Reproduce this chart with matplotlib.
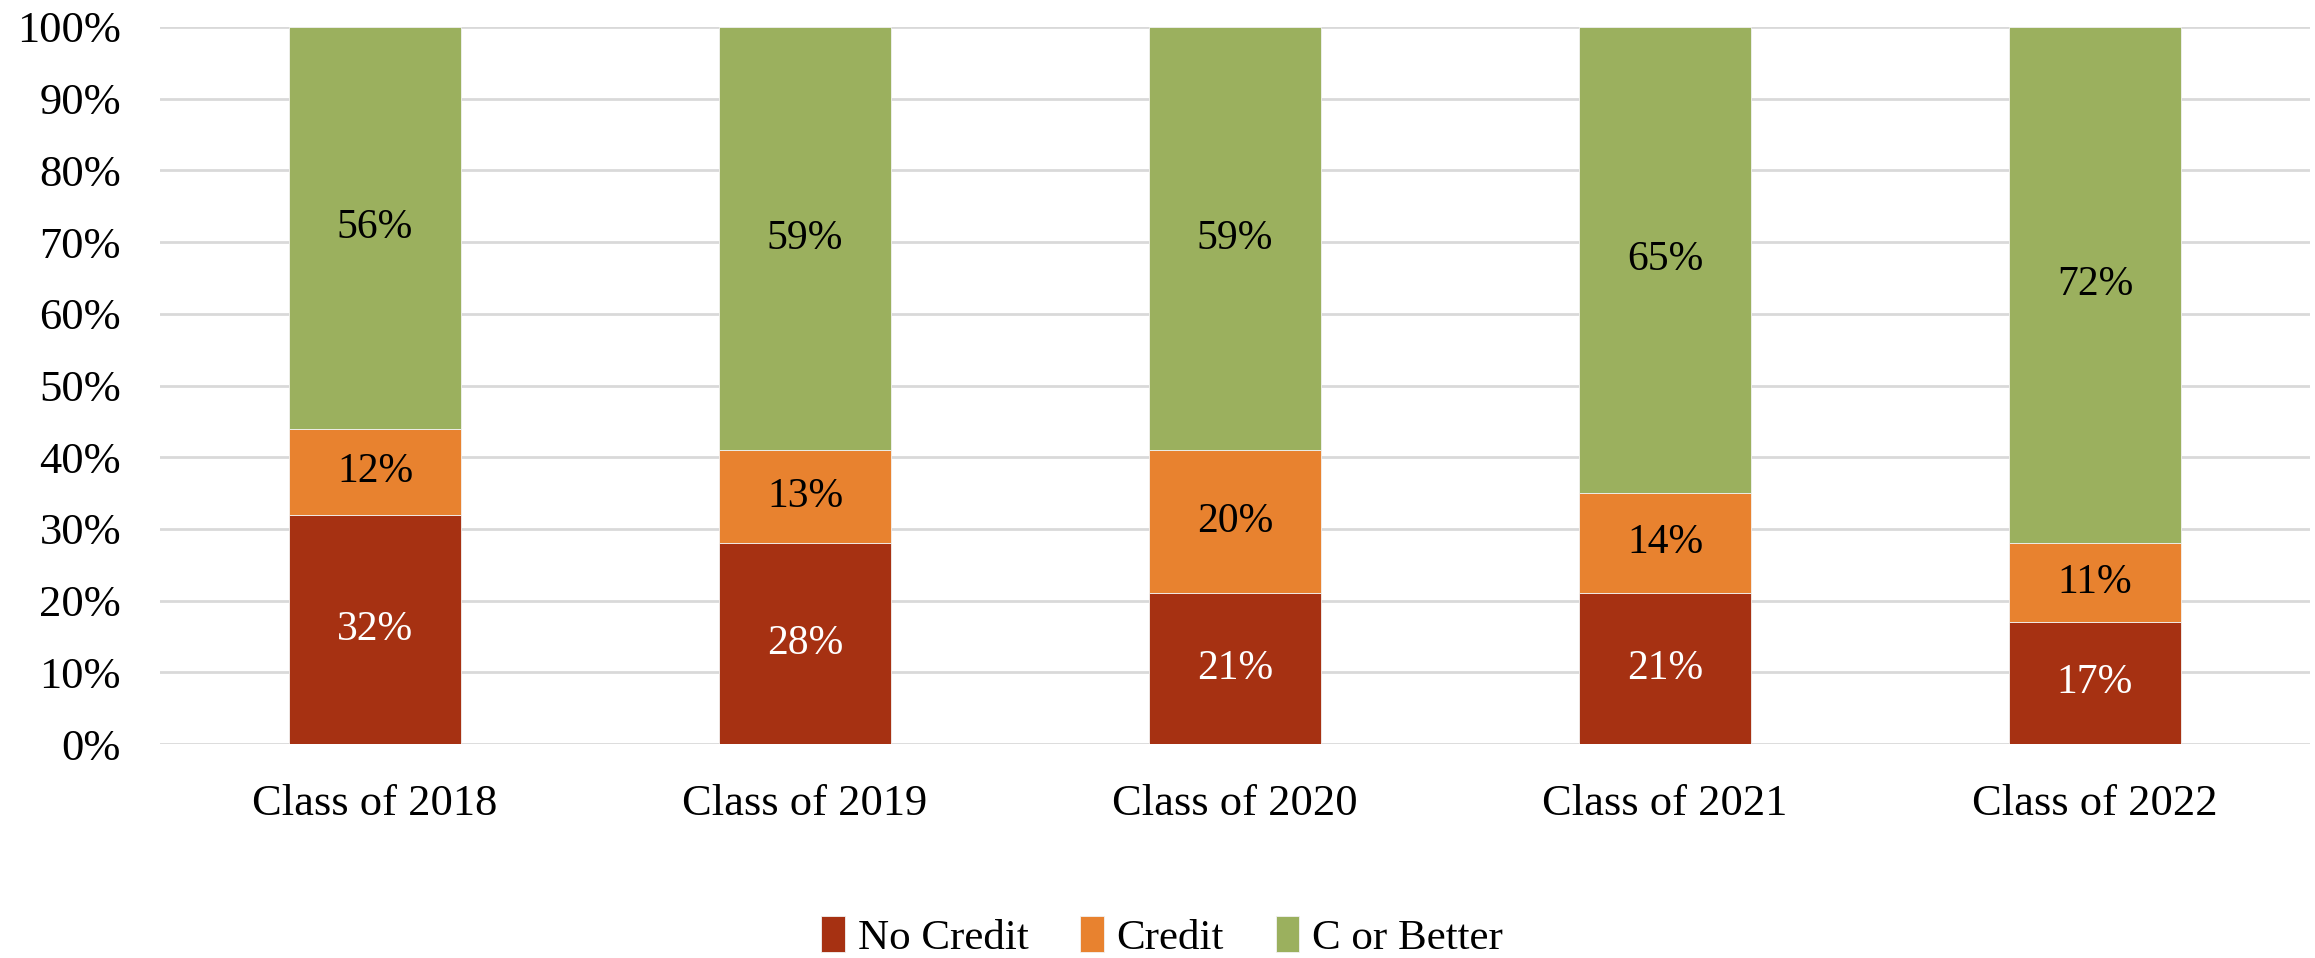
import matplotlib
matplotlib.use('Agg')
import matplotlib.pyplot as plt
import numpy as np
from matplotlib.ticker import PercentFormatter

categories = ['Class of 2018', 'Class of 2019', 'Class of 2020', 'Class of 2021', 'Class of 2022']
no_credit = [32, 28, 21, 21, 17]
credit = [12, 13, 20, 14, 11]
c_or_better = [56, 59, 59, 65, 72]

series = [('No Credit', no_credit, '#A63112', 'white'),
          ('Credit', credit, '#E8822F', 'black'),
          ('C or Better', c_or_better, '#9BB05E', 'black')]

plt.rcParams['font.family'] = ['Liberation Serif', 'DejaVu Serif']

fig = plt.figure(figsize=(23.15, 9.58), dpi=100)
ax = fig.add_axes([160 / 2315, 1 - 744 / 958, 2150 / 2315, 717 / 958])

x = np.arange(len(categories))
bottom = np.zeros(len(categories))
for name, vals, color, tcol in series:
    vals = np.array(vals, dtype=float)
    ax.bar(x, vals, 0.4, bottom=bottom, color=color, label=name,
           edgecolor='#F2F2F2', linewidth=0.6, zorder=3)
    for xi, b, v in zip(x, bottom, vals):
        ax.text(xi, b + v / 2, f'{v:.0f}%', ha='center', va='center',
                color=tcol, fontsize=30, zorder=4)
    bottom += vals

ax.set_xlim(-0.5, len(categories) - 0.5)
ax.set_ylim(0, 100)
ax.set_yticks(np.arange(0, 101, 10))
ax.yaxis.set_major_formatter(PercentFormatter(decimals=0))
ax.set_xticks(x)
ax.set_xticklabels(categories)
ax.tick_params(axis='both', length=0, labelsize=32)
ax.tick_params(axis='x', pad=29)
ax.tick_params(axis='y', pad=28)
ax.grid(axis='y', color='#D9D9D9', linewidth=2, zorder=0)
for s in ax.spines.values():
    s.set_visible(False)

ax.legend(loc='center', bbox_to_anchor=(0.5 + (1162 - 160 - 1075) / 2150, (958 - 937 - (958 - 744)) / 717),
          ncol=3, frameon=False, fontsize=31, handlelength=0.55, handleheight=0.9,
          handletextpad=0.3, columnspacing=1.2)

fig.savefig('out.png', dpi=100, facecolor='white')
